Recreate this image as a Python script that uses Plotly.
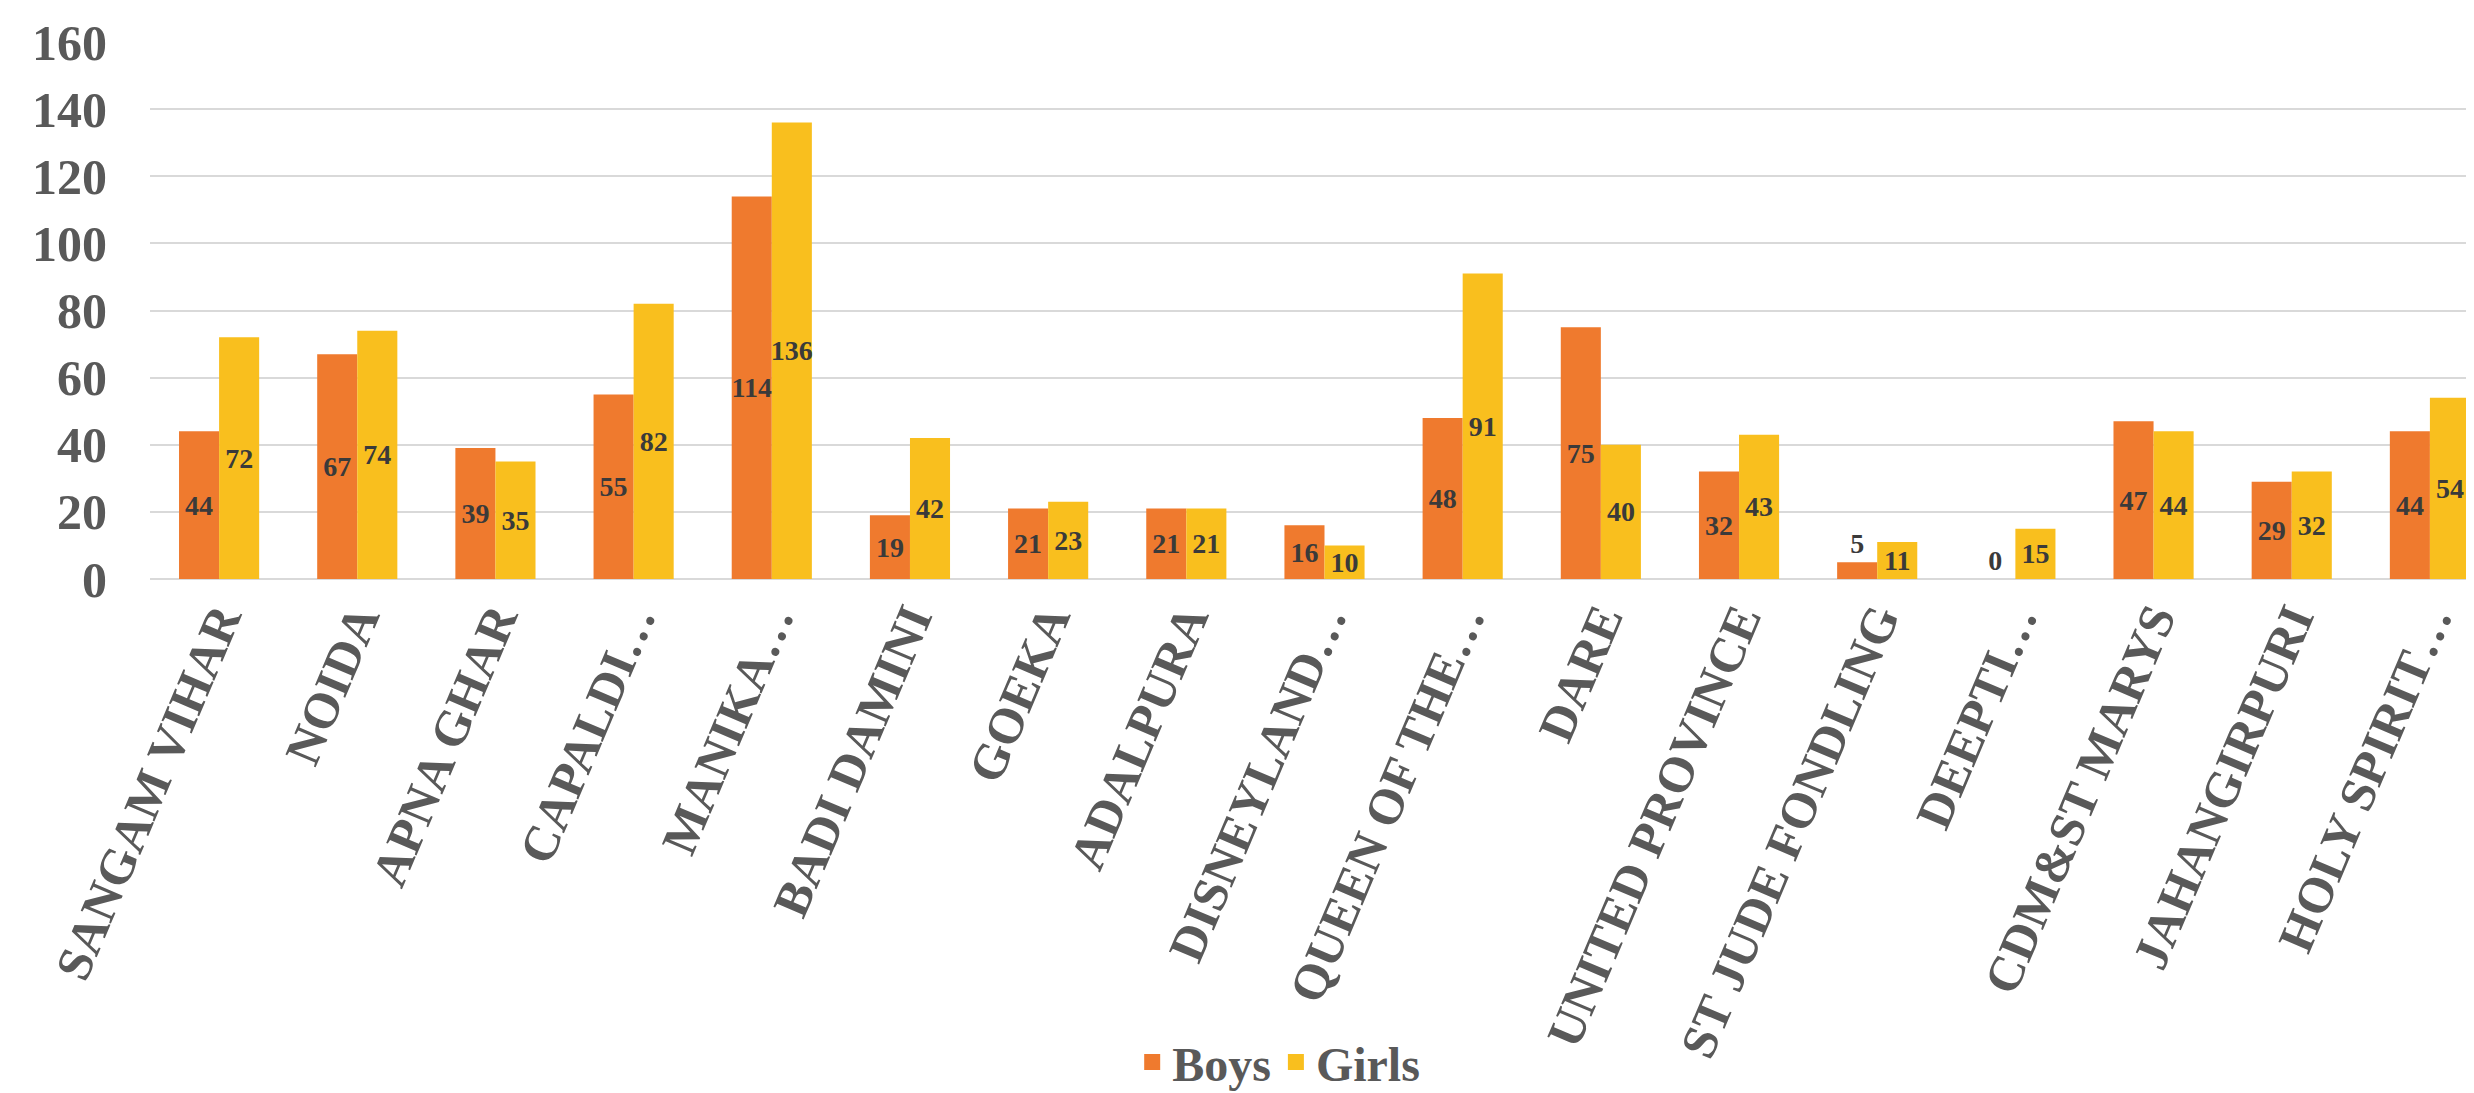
import plotly.graph_objects as go

categories = ["SANGAM VIHAR", "NOIDA", "APNA GHAR", "CAPALDI…", "MANIKA…", "BADI DAMINI",
              "GOEKA", "ADALPURA", "DISNEYLAND…", "QUEEN OF THE…", "DARE", "UNITED PROVINCE",
              "ST JUDE FONDLING", "DEEPTI…", "CDM&ST MARYS", "JAHANGIRPURI", "HOLY SPIRIT…"]
boys = [44, 67, 39, 55, 114, 19, 21, 21, 16, 48, 75, 32, 5, 0, 47, 29, 44]
girls = [72, 74, 35, 82, 136, 42, 23, 21, 10, 91, 40, 43, 11, 15, 44, 32, 54]
y_ticks = [0, 20, 40, 60, 80, 100, 120, 140, 160]

BOYS_COLOR = "#EF7A2E"
GIRLS_COLOR = "#F9BF1E"
FONT = "Times New Roman, Liberation Serif, serif"
GRAY = "#595959"
LABEL = "#3a3a3a"


def positions(vals):
    return ["outside" if v < 8 else "inside" for v in vals]


fig = go.Figure()
for name, vals, col in [("Boys", boys, BOYS_COLOR), ("Girls", girls, GIRLS_COLOR)]:
    fig.add_trace(go.Bar(
        x=categories, y=vals, name=name, marker=dict(color=col, line=dict(width=0)),
        text=vals, texttemplate="%{y}", textposition=positions(vals),
        insidetextanchor="middle", textangle=0, constraintext="none",
        textfont=dict(family=FONT, size=28, color=LABEL, weight="bold"),
        cliponaxis=False, showlegend=False,
    ))
    fig.add_trace(go.Scatter(
        x=[None], y=[None], mode="markers", name=name,
        marker=dict(symbol="square", size=26, color=col), showlegend=True,
    ))

fig.update_layout(
    width=2474, height=1093,
    margin=dict(l=142, r=0, t=34, b=515),
    paper_bgcolor="white", plot_bgcolor="white",
    barmode="group", bargap=0.42, bargroupgap=0,
    uniformtext=dict(mode="show", minsize=28),
    font=dict(family=FONT, color=GRAY),
    legend=dict(
        orientation="h", x=0.484, xanchor="center", y=-0.9, yanchor="middle",
        font=dict(family=FONT, size=48, color=GRAY, weight="bold"),
        itemsizing="trace", bgcolor="rgba(0,0,0,0)",
    ),
    xaxis=dict(
        type="category", range=[-0.5, 16.377], tickangle=-67,
        tickfont=dict(family=FONT, size=50, color=GRAY, weight="bold"),
        showgrid=False, showline=False, ticks="", ticklabelstandoff=0,
    ),
    yaxis=dict(
        range=[0, 160], tickvals=y_ticks, showgrid=True, gridcolor="#D9D9D9", gridwidth=2,
        zeroline=True, zerolinecolor="#D9D9D9", zerolinewidth=2, showline=False, ticks="",
        tickfont=dict(family=FONT, size=50, color=GRAY, weight="bold"),
        ticklabelstandoff=42,
    ),
)

fig.write_html("out.html")
